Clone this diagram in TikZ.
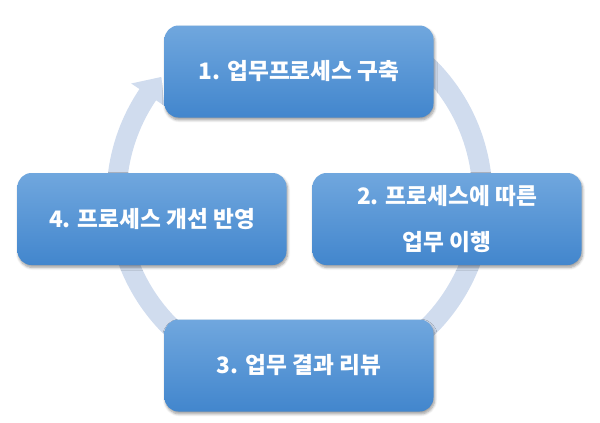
\documentclass[tikz,border=0pt]{standalone}
\usepackage{fontspec}
\newfontfamily\kr{Noto Sans CJK KR}
\usetikzlibrary{shadows.blur}
\definecolor{ringc}{RGB}{208,220,238}
\definecolor{boxtop}{RGB}{112,167,222}
\definecolor{boxbot}{RGB}{66,134,205}
\begin{document}
\begin{tikzpicture}[x=0.75pt,y=-0.75pt,
  stepbox/.style={rounded corners=10.5pt, minimum width=201.75pt, minimum height=69pt,
    top color=boxtop, bottom color=boxbot, draw=none, text=white,
    font=\kr\bfseries\fontsize{17}{34}\selectfont, align=center, inner sep=0pt,
    blur shadow={shadow xshift=0.8pt, shadow yshift=-1.8pt, shadow opacity=40, shadow blur steps=6, shadow blur radius=2pt}}]
\useasboundingbox (0,0) rectangle (600,422);
\begin{scope}[shift={(299.5,197)}, yscale=-1]
  \fill[ringc] (60:193) arc[start angle=60, end angle=-214, radius=193]
     -- (-214:203) -- (-221:183) -- (-214:163) -- (-214:173)
     arc[start angle=-214, end angle=60, radius=173] -- cycle;
\end{scope}
\node[stepbox] (s1) at (299,71.5) {1. 업무프로세스 구축};
\node[stepbox] (s2) at (447,219) {2. 프로세스에 따른\\업무 이행};
\node[stepbox] (s3) at (299,365.5) {3. 업무 결과 리뷰};
\node[stepbox] (s4) at (152,219) {4. 프로세스 개선 반영};
\end{tikzpicture}
\end{document}
